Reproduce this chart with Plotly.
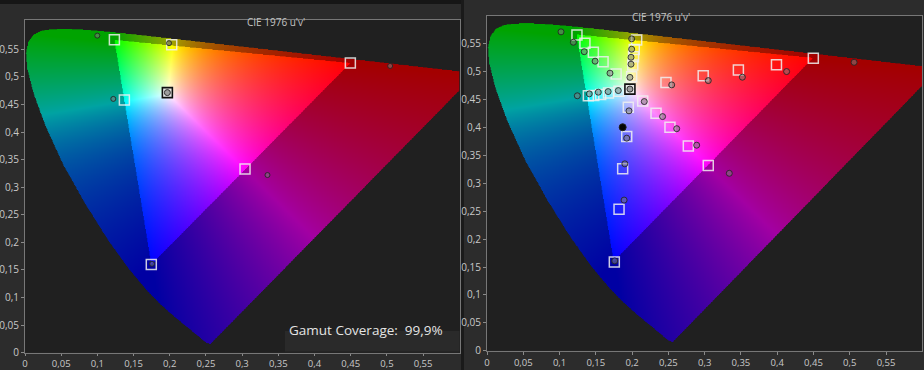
import base64, struct, zlib
import numpy as np
import plotly.graph_objects as go

# ---------------- data ----------------
# CIE 1931 spectral locus (x, y)
locus_nm = [380, 400, 420, 430, 440, 445, 450, 455, 460, 465, 470, 475, 480, 485, 490, 495,
            500, 505, 510, 515, 520, 525, 530, 535, 540, 545, 550, 555, 560, 565, 570, 575,
            580, 585, 590, 595, 600, 610, 620, 630, 640, 650, 680, 700]
locus_x = [0.1741, 0.1733, 0.1714, 0.1689, 0.1644, 0.1611, 0.1566, 0.1510, 0.1440, 0.1355, 0.1241,
           0.1096, 0.0913, 0.0687, 0.0454, 0.0235, 0.0082, 0.0039, 0.0139, 0.0389, 0.0743, 0.1142,
           0.1547, 0.1929, 0.2296, 0.2658, 0.3016, 0.3373, 0.3731, 0.4087, 0.4441, 0.4788, 0.5125,
           0.5448, 0.5752, 0.6029, 0.6270, 0.6658, 0.6915, 0.7079, 0.7190, 0.7260, 0.7334, 0.7347]
locus_y = [0.0050, 0.0048, 0.0051, 0.0069, 0.0109, 0.0138, 0.0177, 0.0227, 0.0297, 0.0399, 0.0578,
           0.0868, 0.1327, 0.2007, 0.2950, 0.4127, 0.5384, 0.6548, 0.7502, 0.8120, 0.8338, 0.8262,
           0.8059, 0.7816, 0.7543, 0.7243, 0.6923, 0.6589, 0.6245, 0.5896, 0.5547, 0.5202, 0.4866,
           0.4544, 0.4242, 0.3965, 0.3725, 0.3340, 0.3083, 0.2920, 0.2809, 0.2740, 0.2666, 0.2653]

# target gamut primaries (u', v')  R, G, B
gamut_u = [0.4495, 0.1235, 0.1745]
gamut_v = [0.5250, 0.5670, 0.1600]

# left panel: targets / measurements  R, G, B, C, Y, M
left_target_u = [0.4495, 0.1235, 0.1745, 0.1373, 0.2027, 0.3040]
left_target_v = [0.5250, 0.5670, 0.1600, 0.4580, 0.5580, 0.3330]
left_meas_u = [0.5045, 0.0999, 0.1755, 0.1220, 0.1990, 0.3350]
left_meas_v = [0.5197, 0.5747, 0.1610, 0.4600, 0.5610, 0.3220]
left_white_target = [0.1967, 0.4714]
left_white_meas = [0.1967, 0.4714]
gamut_coverage = "99,9%"

# right panel: saturation sweeps (20..100 %)
red_target_u = [0.2467, 0.2980, 0.3465, 0.3990, 0.4498]
red_target_v = [0.4807, 0.4927, 0.5034, 0.5124, 0.5244]
red_meas_u = [0.2546, 0.3050, 0.3520, 0.4130, 0.5060]
red_meas_v = [0.4765, 0.4842, 0.4903, 0.5004, 0.5170]
green_target_u = [0.1780, 0.1600, 0.1466, 0.1350, 0.1240]
green_target_v = [0.4960, 0.5180, 0.5350, 0.5510, 0.5660]
green_meas_u = [0.1695, 0.1490, 0.1340, 0.1190, 0.1020]
green_meas_v = [0.4975, 0.5190, 0.5360, 0.5530, 0.5716]
blue_target_u = [0.1948, 0.1926, 0.1870, 0.1820, 0.1755]
blue_target_v = [0.4365, 0.3838, 0.3260, 0.2536, 0.1590]
blue_meas_u = [0.1957, 0.1926, 0.1900, 0.1890, 0.1760]
blue_meas_v = [0.4300, 0.3810, 0.3350, 0.2700, 0.1610]
cyan_target_u = [0.1819, 0.1675, 0.1567, 0.1472, 0.1397]
cyan_target_v = [0.4649, 0.4618, 0.4595, 0.4574, 0.4570]
cyan_meas_u = [0.1810, 0.1670, 0.1534, 0.1410, 0.1245]
cyan_meas_v = [0.4663, 0.4645, 0.4634, 0.4604, 0.4570]
yellow_target_u = [0.1994, 0.2009, 0.2020, 0.2030, 0.2063]
yellow_target_v = [0.4910, 0.5120, 0.5270, 0.5400, 0.5570]
yellow_meas_u = [0.1970, 0.1985, 0.1985, 0.1994, 0.1994]
yellow_meas_v = [0.4900, 0.5136, 0.5260, 0.5405, 0.5590]
magenta_target_u = [0.2146, 0.2330, 0.2522, 0.2775, 0.3050]
magenta_target_v = [0.4478, 0.4257, 0.4006, 0.3670, 0.3318]
magenta_meas_u = [0.2168, 0.2420, 0.2615, 0.2890, 0.3340]
magenta_meas_v = [0.4466, 0.4197, 0.3980, 0.3684, 0.3180]
right_white_target = [0.1970, 0.4690]
right_white_meas = [0.1970, 0.4690]
right_black_meas = [0.1870, 0.4006]

tick_vals = [0, 0.05, 0.1, 0.15, 0.2, 0.25, 0.3, 0.35, 0.4, 0.45, 0.5, 0.55]
tick_text = ["0", "0,05", "0,1", "0,15", "0,2", "0,25", "0,3", "0,35", "0,4", "0,45", "0,5", "0,55"]
title_text = "CIE 1976 u'v'"

# ---------------- chromaticity background image ----------------
lx = np.array(locus_x); ly = np.array(locus_y)
den_l = -2 * lx + 12 * ly + 3
locus_u = 4 * lx / den_l
locus_v = 9 * ly / den_l


def inside(px, py, polx, poly):
    res = np.zeros(px.shape, dtype=bool)
    n = len(polx)
    j = n - 1
    for i in range(n):
        xi, yi, xj, yj = polx[i], poly[i], polx[j], poly[j]
        if yi != yj:
            cond = ((yi > py) != (yj > py)) & (px < (xj - xi) * (py - yi) / (yj - yi) + xi)
            res ^= cond
        j = i
    return res


N = 600
EXT = 0.6
step = EXT / N
uu = (np.arange(N) + 0.5) * step
vv = EXT - (np.arange(N) + 0.5) * step
U, V = np.meshgrid(uu, vv)
den = 6 * U - 16 * V + 12
cx = 9 * U / den
cy = np.maximum(4 * V / den, 1e-6)
X = cx / cy
Z = (1 - cx - cy) / cy
R = 3.2406 * X - 1.5372 - 0.4986 * Z
G = -0.9689 * X + 1.8758 + 0.0415 * Z
B = 0.0557 * X - 0.2040 + 1.0570 * Z
rgb = np.clip(np.stack([R, G, B], axis=-1), 0, None)
rgb = rgb / np.maximum(rgb.max(axis=-1, keepdims=True), 1e-9)
rgb = np.power(rgb, 0.85)
in_tri = inside(U, V, gamut_u, gamut_v)
rgb = np.where(in_tri[..., None], rgb, rgb * 0.64)
mask = inside(U, V, list(locus_u), list(locus_v))
alpha = np.where(mask, 255, 0).astype(np.uint8)
img = np.concatenate([(rgb * 255).clip(0, 255).astype(np.uint8), alpha[..., None]], axis=-1)


def png_bytes(a):
    h, w, _ = a.shape
    raw = b"".join(b"\x00" + a[r].tobytes() for r in range(h))

    def chunk(t, d):
        c = struct.pack(">I", len(d)) + t + d
        return c + struct.pack(">I", zlib.crc32(t + d) & 0xFFFFFFFF)

    return (b"\x89PNG\r\n\x1a\n" + chunk(b"IHDR", struct.pack(">IIBBBBB", w, h, 8, 6, 0, 0, 0))
            + chunk(b"IDAT", zlib.compress(raw, 9)) + chunk(b"IEND", b""))


uri = "data:image/png;base64," + base64.b64encode(png_bytes(img)).decode()

# ---------------- figure ----------------
W, H = 924, 370
fig = go.Figure()

SQ = dict(symbol="square-open", size=10, color="rgba(240,240,240,0.85)", line=dict(width=1.5))
CI = dict(symbol="circle", size=6, color="rgba(125,125,125,0.55)",
          line=dict(color="rgba(35,35,35,0.85)", width=1))


def add_pts(xs, ys, marker, xa, ya):
    fig.add_trace(go.Scatter(x=xs, y=ys, mode="markers", marker=marker, xaxis=xa, yaxis=ya,
                             showlegend=False, hoverinfo="skip"))


def add_white(t, m, xa, ya):
    add_pts([t[0]], [t[1]], dict(symbol="square", size=10, color="rgba(230,230,230,0.9)",
                                 line=dict(color="#101010", width=1.6)), xa, ya)
    add_pts([m[0]], [m[1]], dict(symbol="circle", size=6, color="rgba(150,150,150,0.9)",
                                 line=dict(color="#303030", width=1)), xa, ya)


# left
add_pts(left_target_u, left_target_v, SQ, "x", "y")
add_pts(left_meas_u, left_meas_v, dict(CI, size=5), "x", "y")
add_white(left_white_target, left_white_meas, "x", "y")

# right
for tu, tv in [(red_target_u, red_target_v), (green_target_u, green_target_v),
               (blue_target_u, blue_target_v), (cyan_target_u, cyan_target_v),
               (yellow_target_u, yellow_target_v), (magenta_target_u, magenta_target_v)]:
    add_pts(tu, tv, SQ, "x2", "y2")
for mu, mv in [(red_meas_u, red_meas_v), (green_meas_u, green_meas_v),
               (blue_meas_u, blue_meas_v), (cyan_meas_u, cyan_meas_v),
               (yellow_meas_u, yellow_meas_v), (magenta_meas_u, magenta_meas_v)]:
    add_pts(mu, mv, CI, "x2", "y2")
add_white(right_white_target, right_white_meas, "x2", "y2")
add_pts([right_black_meas[0]], [right_black_meas[1]],
        dict(symbol="circle", size=7, color="#050505", line=dict(color="#202020", width=1)), "x2", "y2")


def px_x(p):
    return p / W


def px_y(p):
    return 1 - p / H


axis_common = dict(showgrid=False, zeroline=False, showline=True, mirror=True, automargin=False,
                   linecolor="#777777", linewidth=1, ticks="outside", ticklen=3,
                   tickcolor="#8a8a8a", tickfont=dict(family="Open Sans", size=10, color="#c8c8c8"),
                   tickvals=tick_vals, ticktext=tick_text, fixedrange=True)
xtick_font = dict(family="Open Sans", size=9.5, color="#c8c8c8")

fig.update_layout(
    width=W, height=H, margin=dict(l=0, r=0, t=0, b=0, autoexpand=False),
    paper_bgcolor="#2c2c2c", plot_bgcolor="#202020",
    xaxis=dict(axis_common, domain=[px_x(25), px_x(460)], range=[0, 0.601], anchor="y",
               ticklen=2, tickfont=xtick_font),
    yaxis=dict(axis_common, domain=[px_y(352.7), px_y(20)], range=[0, 0.603], anchor="x"),
    xaxis2=dict(axis_common, domain=[px_x(487), px_x(922)], range=[0, 0.5996], anchor="y2",
                tickfont=xtick_font),
    yaxis2=dict(axis_common, domain=[px_y(350.7), px_y(16)], range=[0, 0.600], anchor="x2"),
    images=[
        dict(source=uri, xref="x", yref="y", x=0, y=EXT, sizex=EXT, sizey=EXT,
             sizing="stretch", xanchor="left", yanchor="top", layer="below"),
        dict(source=uri, xref="x2", yref="y2", x=0, y=EXT, sizex=EXT, sizey=EXT,
             sizing="stretch", xanchor="left", yanchor="top", layer="below"),
    ],
    shapes=[
        dict(type="rect", xref="paper", yref="paper", x0=0, x1=px_x(461), y0=px_y(4), y1=1,
             fillcolor="#161616", line=dict(width=0), layer="below"),
        dict(type="rect", xref="paper", yref="paper", x0=px_x(461), x1=px_x(464), y0=0, y1=1,
             fillcolor="#1a1a1a", line=dict(width=0), layer="below"),
        dict(type="rect", xref="paper", yref="paper", x0=px_x(285), x1=px_x(459.5),
             y0=px_y(351.5), y1=px_y(331), fillcolor="#2a2a2a", line=dict(width=0), layer="above"),
    ],
    annotations=[
        dict(text=title_text, xref="paper", yref="paper", x=px_x(245), y=px_y(13),
             showarrow=False, font=dict(family="Open Sans", size=10, color="#c4c4c4")),
        dict(text=title_text, xref="paper", yref="paper", x=px_x(692), y=px_y(8),
             showarrow=False, font=dict(family="Open Sans", size=10, color="#c4c4c4")),
        dict(text="Gamut Coverage:  " + gamut_coverage, xref="paper", yref="paper",
             x=px_x(287), y=px_y(341), xanchor="left", showarrow=False,
             font=dict(family="Open Sans", size=13.5, color="#e4e4e4")),
    ],
)

fig.write_html("out.html", config={"displayModeBar": False},
               post_script="document.body.style.margin='0px';document.body.style.padding='0px';"
                           "document.body.style.background='#2c2c2c';")
